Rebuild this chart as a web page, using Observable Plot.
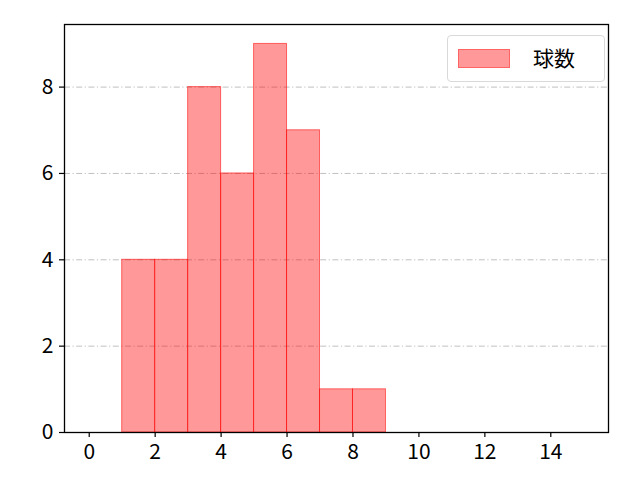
<!DOCTYPE html>
<html>
<head>
<meta charset="utf-8">
<script src="https://cdn.jsdelivr.net/npm/d3@7"></script>
<script src="https://cdn.jsdelivr.net/npm/@observablehq/plot@0.6"></script>
<style>
  html, body { margin: 0; padding: 0; background: #fff; }
  #wrap { position: relative; width: 640px; height: 480px; font-family: "Noto Sans CJK JP", "Noto Sans", sans-serif; }
  #legend { position: absolute; left: 447px; top: 35px; width: 158px; height: 47px; box-sizing: border-box;
    border: 1px solid #d9d9d9; border-radius: 4px; background: rgba(255,255,255,0.8); }
  #legend .sw { position: absolute; left: 10px; top: 13px; width: 52px; height: 19px; background: rgba(255,0,0,0.4); border: 1px solid rgba(255,0,0,0.35); box-sizing: border-box; }
  #legend .lb { position: absolute; left: 85px; top: 5px; font-size: 21px; line-height: 32px; color: #000; }
</style>
</head>
<body>
<div id="wrap"></div>
<script>
const binStarts = [1, 2, 3, 4, 5, 6, 7, 8];
const binWidth = 1;
const counts = [4, 4, 8, 6, 9, 7, 1, 1];
const xTicks = [0, 2, 4, 6, 8, 10, 12, 14];
const yTicks = [0, 2, 4, 6, 8];
const gridTicks = [2, 4, 6, 8];
const seriesName = "球数";

const bins = binStarts.map((s, i) => ({x1: s, x2: s + binWidth, y: counts[i]}));

const chart = Plot.plot({
  width: 640,
  height: 480,
  marginLeft: 64,
  marginRight: 32,
  marginTop: 24,
  marginBottom: 48,
  style: {fontFamily: "'Noto Sans CJK JP', 'Noto Sans', sans-serif", fontSize: "21px", color: "#000", background: "#fff"},
  x: {domain: [-0.75, 15.75], ticks: xTicks},
  y: {domain: [0, 9.45], ticks: yTicks},
  marks: [
    Plot.ruleY(gridTicks, {stroke: "#b0b0b0", strokeWidth: 0.8, strokeDasharray: "6,2.5,1.2,2.5"}),
    Plot.rectY(bins, {x1: "x1", x2: "x2", y: "y", fill: "rgba(255,0,0,0.4)", stroke: "rgba(255,0,0,0.55)", strokeWidth: 1}),
    Plot.axisX({ticks: xTicks, tickSize: 5, tickPadding: 7, label: null, stroke: "#000", strokeWidth: 1.2, fontSize: 21, fill: "#000"}),
    Plot.axisY({ticks: yTicks, tickSize: 5, tickPadding: 6, label: null, stroke: "#000", strokeWidth: 1.2, fontSize: 21, fill: "#000"}),
    Plot.frame({stroke: "#000", strokeWidth: 1.3})
  ]
});

const wrap = document.getElementById("wrap");
wrap.appendChild(chart);
const lg = document.createElement("div");
lg.id = "legend";
lg.innerHTML = '<div class="sw"></div><div class="lb"></div>';
lg.querySelector(".lb").textContent = seriesName;
wrap.appendChild(lg);
</script>
</body>
</html>
